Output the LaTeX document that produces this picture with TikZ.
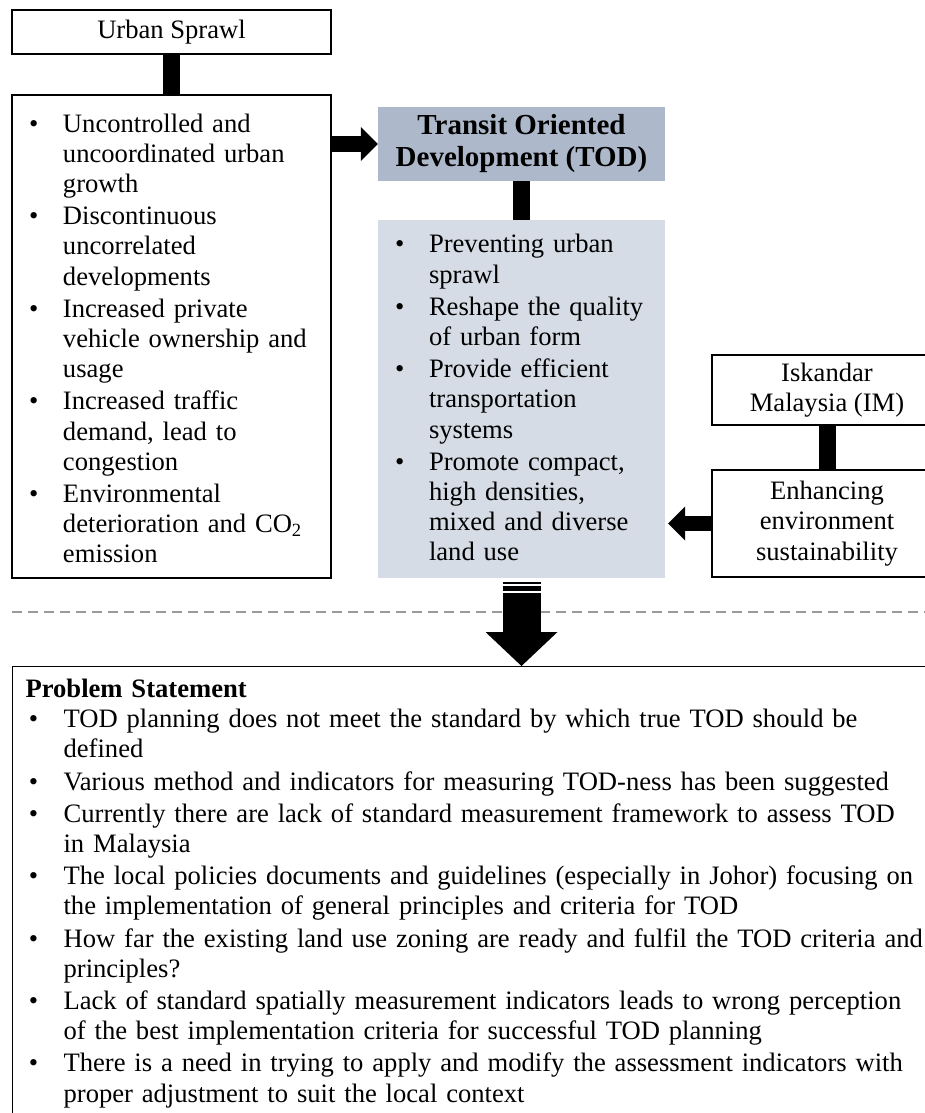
\documentclass[tikz,border=0pt]{standalone}
\usepackage{fontspec}
\setmainfont{Liberation Serif}
\usepackage{enumitem}
\usepackage{xcolor}
\usetikzlibrary{arrows.meta}
\definecolor{todhead}{HTML}{ADB9CA}
\definecolor{todbody}{HTML}{D6DCE5}
\definecolor{sepgray}{HTML}{9A9A9A}
\newlist{bullets}{itemize}{1}
\setlist[bullets]{label=\textbullet, nosep, itemsep=2pt, leftmargin=51pt, labelsep=24.5pt}
\newcommand{\padbelow}[1]{\par\vskip #1\hrule height 0pt}
\tikzstyle{plain} = [rectangle, 
draw=black, 
line width=1.2pt, 
fill=white, 
align=center, 
inner sep=0pt]
\tikzstyle{listbox} = [rectangle, 
draw=black, 
line width=1.2pt, 
fill=white, 
align=left, 
inner sep=0pt]
\tikzstyle{todbox} = [rectangle, 
fill=todhead, 
align=center, 
inner sep=0pt, 
font=\fontsize{29}{32}\selectfont\bfseries]
\tikzstyle{toditems} = [rectangle, 
fill=todbody, 
align=left, 
inner sep=0pt]
\tikzstyle{bar} = [line width=17pt]
\tikzstyle{blockarrow} = [line width=15pt, -{Triangle[width=34pt, length=17pt, line width=0pt]}]
\tikzstyle{bigarrow} = [line width=38pt, -{Triangle[width=72pt, length=34pt, line width=0pt]}]
\tikzstyle{sepline} = [sepgray, line width=1.4pt, dash pattern=on 10pt off 6pt]

\begin{document}
\begin{tikzpicture}[x=1pt, y=1pt, font=\fontsize{26.6}{30.2}\selectfont]

  \fill [white] (0,0) rectangle (925,-1113);
  \useasboundingbox (0,0) rectangle (925,-1113);

  \node (sprawl) [plain, minimum width=319pt, minimum height=44pt] at (171.5,-32) {Urban Sprawl};
  \node (sprawllist) [listbox, text width=319pt, minimum height=483pt, node distance=304.5pt, below of=sprawl] {%
    \begin{bullets}
      \item Uncontrolled and\\ uncoordinated urban\\ growth
      \item Discontinuous\\ uncorrelated\\ developments
      \item Increased private\\ vehicle ownership and\\ usage
      \item Increased traffic\\ demand, lead to\\ congestion
      \item Environmental\\ deterioration and CO\textsubscript{2}\\ emission
    \end{bullets}\padbelow{8pt}};

  \node (tod) [todbox, minimum width=287pt, minimum height=74pt] at (521.5,-144) {Transit Oriented\\ Development (TOD)};
  \node (todlist) [toditems, text width=287pt, minimum height=358pt, node distance=255pt, below of=tod] {%
    \begin{bullets}
      \item Preventing urban\\ sprawl
      \item Reshape the quality\\ of urban form
      \item Provide efficient\\ transportation\\ systems
      \item Promote compact,\\ high densities,\\ mixed and diverse\\ land use
    \end{bullets}\padbelow{14pt}};

  \node (isk) [plain, minimum width=230pt, minimum height=70pt] at (827,-390) {Iskandar\\ Malaysia (IM)};
  \node (enhance) [plain, minimum width=230pt, minimum height=107pt, node distance=133.5pt, below of=isk] {Enhancing\\ environment\\ sustainability};

  \node (problem) [listbox, anchor=north west, text width=940pt, inner xsep=13pt, inner ysep=12.5pt] at (12,-666) {%
    \textbf{Problem Statement}
    \begin{bullets}[leftmargin=38pt, labelsep=25.5pt]
      \item TOD planning does not meet the standard by which true TOD should be\\ defined
      \item Various method and indicators for measuring TOD-ness has been suggested
      \item Currently there are lack of standard measurement framework to assess TOD\\ in Malaysia
      \item The local policies documents and guidelines (especially in Johor) focusing on\\ the implementation of general principles and criteria for TOD
      \item How far the existing land use zoning are ready and fulfil the TOD criteria and\\ principles?
      \item Lack of standard spatially measurement indicators leads to wrong perception\\ of the best implementation criteria for successful TOD planning
      \item There is a need in trying to apply and modify the assessment indicators with\\ proper adjustment to suit the local context
    \end{bullets}};

  \coordinate (sepleft) at (12,-612);
  \coordinate (sepright) at (925,-612);
  \draw [sepline] (sepleft) -- (sepright);

  \draw [bar] (sprawl) -- (sprawllist);
  \draw [bar] (tod) -- (todlist);
  \draw [bar] (isk) -- (enhance);
  \draw [blockarrow] (sprawllist.east |- tod.west) -- (tod.west);
  \draw [blockarrow, shorten >=3pt] (enhance.west) -- (todlist.east |- enhance.west);

  \draw [line width=2pt] ([xshift=-19pt, yshift=-5pt]todlist.south) -- ++(38pt,0);
  \draw [line width=5pt] ([xshift=-19pt, yshift=-10.5pt]todlist.south) -- ++(38pt,0);
  \draw [bigarrow] ([yshift=-15pt]todlist.south) -- (todlist.south |- problem.north);

\end{tikzpicture}
\end{document}
